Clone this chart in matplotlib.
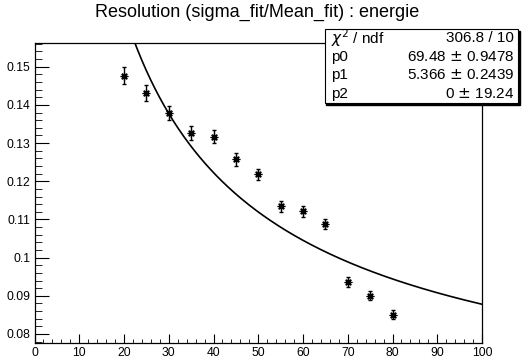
import numpy as np
import matplotlib.pyplot as plt
from matplotlib.patches import Rectangle

plt.rcParams['font.family'] = ['Liberation Sans', 'DejaVu Sans']

energie = [20, 25, 30, 35, 40, 45, 50, 55, 60, 65, 70, 75, 80]
resolution = [0.1476, 0.1431, 0.1379, 0.1327, 0.1316, 0.1257, 0.1218,
              0.1134, 0.1121, 0.1088, 0.0935, 0.0900, 0.0850]
erreur = [0.0022, 0.0020, 0.0019, 0.0018, 0.0017, 0.0016, 0.0015,
          0.0015, 0.0014, 0.0013, 0.0013, 0.0012, 0.0012]

p0, p1, p2 = 69.48, 5.366, 0.0
stats = [("$\\chi^2$ / ndf", "306.8 / 10"),
         ("p0", "69.48 $\\pm$ 0.9478"),
         ("p1", "5.366 $\\pm$ 0.2439"),
         ("p2", "0 $\\pm$ 19.24")]

fig = plt.figure(figsize=(5.23, 3.59), dpi=100)
ax = fig.add_axes([0.066, 0.0446, 0.8556, 0.8364])

ax.errorbar(energie, resolution, yerr=erreur, fmt='none', ecolor='black',
            elinewidth=1, capsize=1.5)
ax.plot(energie, resolution, linestyle='none', marker=(8, 2, 0),
        markersize=5.5, color='black', markeredgewidth=0.9)

x = np.linspace(1, 100, 500)
f = np.sqrt(p0**2 / x + p1**2 + p2**2 / x**2) / 100
ax.plot(x, f, color='black', lw=1.2)

ax.set_xlim(0, 100)
ax.set_ylim(0.07764, 0.15628)
ax.set_xticks(np.arange(0, 101, 10))
ax.set_xticks(np.arange(0, 101, 2), minor=True)
ax.set_yticks(np.arange(0.08, 0.151, 0.01))
ax.set_yticks(np.arange(0.078, 0.157, 0.002), minor=True)
ax.set_yticklabels(['0.08', '0.09', '0.1', '0.11', '0.12', '0.13', '0.14', '0.15'])
ax.tick_params(axis='both', which='both', direction='in', labelsize=8.7, pad=3)
ax.tick_params(axis='x', which='major', length=6.5)
ax.tick_params(axis='x', which='minor', length=3.2)
ax.tick_params(axis='y', which='major', length=10)
ax.tick_params(axis='y', which='minor', length=5)
for s in ax.spines.values():
    s.set_linewidth(0.9)

fig.text(0.492, 0.966, "Resolution (sigma_fit/Mean_fit) : energie",
         ha='center', va='center', fontsize=13)

# boite de stats
bx0, by0, bw, bh = 0.621, 0.713, 0.37, 0.206
fig.patches.append(Rectangle((bx0 + 0.003, by0 - 0.005), bw, bh,
                             transform=fig.transFigure, color='black', zorder=5))
fig.patches.append(Rectangle((bx0, by0), bw, bh, transform=fig.transFigure,
                             facecolor='white', edgecolor='black', lw=0.8, zorder=6))
for i, (nom, val) in enumerate(stats):
    yy = by0 + bh - (i + 0.5) * bh / 4
    fig.text(bx0 + 0.012, yy, nom, ha='left', va='center', fontsize=11, zorder=7)
    fig.text(bx0 + bw - 0.008, yy, val, ha='right', va='center', fontsize=11, zorder=7)

fig.savefig('out.png', dpi=100)
